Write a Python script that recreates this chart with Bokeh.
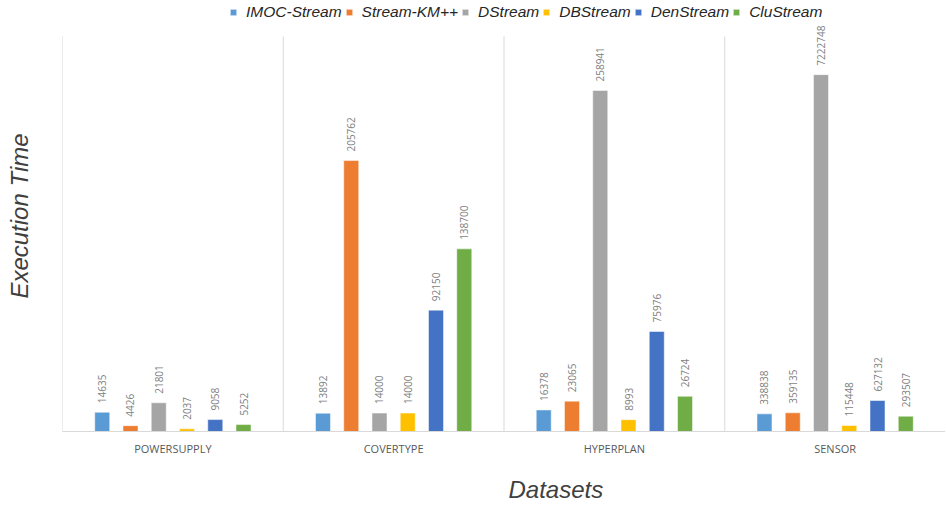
import numpy as np
from bokeh.plotting import figure
from bokeh.models import ColumnDataSource, FactorRange, Range1d, Legend, LegendItem, Title, FixedTicker
from bokeh.transform import dodge
from bokeh.core.properties import value
from bokeh.embed import file_html
from bokeh.resources import INLINE

# ---------------- data ----------------
datasets = ["POWERSUPPLY", "COVERTYPE", "HYPERPLAN", "SENSOR"]
series = ["IMOC-Stream", "Stream-KM++", "DStream", "DBStream", "DenStream", "CluStream"]
colors = ["#5B9BD5", "#ED7D31", "#A5A5A5", "#FFC000", "#4472C4", "#70AD47"]

# execution times shown in the value labels
imoc_stream = [14635, 13892, 16378, 338838]
stream_km = [4426, 205762, 23065, 359135]
dstream = [21801, 14000, 258941, 7222748]
dbstream = [2037, 14000, 8993, 115448]
denstream = [9058, 92150, 75976, 627132]
clustream = [5252, 138700, 26724, 293507]

# bar heights as drawn in the picture (SENSOR is drawn on a compressed scale)
imoc_stream_h = [14635, 13892, 16378, 13400]
stream_km_h = [4426, 205762, 23065, 14200]
dstream_h = [21801, 14000, 258941, 271000]
dbstream_h = [2037, 14000, 8993, 4560]
denstream_h = [9058, 92150, 75976, 23540]
clustream_h = [5252, 138700, 26724, 11600]

labels_all = [imoc_stream, stream_km, dstream, dbstream, denstream, clustream]
heights_all = [imoc_stream_h, stream_km_h, dstream_h, dbstream_h, denstream_h, clustream_h]

# value-axis extent of the chart area (separator lines) and of the drawing frame
axis_max = 300000
frame_max = 327300

# ---------------- figure ----------------
p = figure(
    x_range=FactorRange(*datasets),
    y_range=Range1d(0, frame_max),
    frame_width=883, frame_height=431,
    min_border_left=62, min_border_right=0, min_border_top=0, min_border_bottom=77,
    output_backend="svg", toolbar_location=None,
)
p.outline_line_color = None
p.xgrid.grid_line_color = None
p.ygrid.grid_line_color = None

# group separators (band boundaries)
sep = ColumnDataSource(dict(x=list(range(len(datasets))),
                            y0=[0] * len(datasets), y1=[axis_max] * len(datasets)))
p.segment(x0="x", y0="y0", x1="x", y1="y1", source=sep, line_color="#D9D9D9", line_width=1)

bar_w = 0.068
step = 0.128
items = []
for i, (name, col, vals, hts) in enumerate(zip(series, colors, labels_all, heights_all)):
    src = ColumnDataSource(dict(x=datasets, top=hts, label=[str(v) for v in vals]))
    off = (i - 2.5) * step
    r = p.vbar(x=dodge("x", off, range=p.x_range), top="top", width=bar_w, source=src,
               fill_color=col, line_color="white", line_alpha=0.5, line_width=1)
    p.text(x=dodge("x", off, range=p.x_range), y="top", text="label", source=src,
           angle=np.pi / 2, text_align="left", text_baseline="middle", y_offset=-9,
           text_font=value("Open Sans"), text_font_size="10px", text_color="#7F7F7F")
    items.append(LegendItem(label=name, renderers=[r]))

legend = Legend(items=items, orientation="horizontal", location=(167, 410))
legend.border_line_color = None
legend.background_fill_alpha = 0
legend.padding = 0
legend.margin = 0
legend.spacing = 3
legend.label_standoff = 9
legend.glyph_width = 8
legend.glyph_height = 8
legend.label_height = 17
legend.label_text_font = "Liberation Sans"
legend.label_text_font_style = "italic"
legend.label_text_font_size = "15.5px"
legend.label_text_color = "#262626"
p.add_layout(legend, "center")

# axes
p.yaxis.ticker = FixedTicker(ticks=[])
p.yaxis.axis_line_color = None
p.yaxis.major_tick_line_color = None
p.yaxis.minor_tick_line_color = None
p.yaxis.major_tick_out = 0
p.yaxis.major_label_standoff = 0
p.yaxis.axis_label = "Execution Time"
p.yaxis.axis_label_standoff = 30
p.yaxis.axis_label_text_font = "Liberation Sans"
p.yaxis.axis_label_text_font_style = "italic"
p.yaxis.axis_label_text_font_size = "24px"
p.yaxis.axis_label_text_color = "#404040"

p.xaxis.axis_line_color = "#D9D9D9"
p.xaxis.major_tick_line_color = None
p.xaxis.minor_tick_line_color = None
p.xaxis.major_tick_out = 0
p.xaxis.major_label_standoff = 9
p.xaxis.major_label_text_font = "Open Sans"
p.xaxis.major_label_text_font_size = "11px"
p.xaxis.major_label_text_color = "#595959"

t = Title(text="Datasets", align="left", offset=446, standoff=31, text_font="Liberation Sans",
          text_font_style="italic", text_font_size="24px", text_color="#404040")
p.add_layout(t, "below")

open("out.html", "w").write(file_html(p, INLINE))
